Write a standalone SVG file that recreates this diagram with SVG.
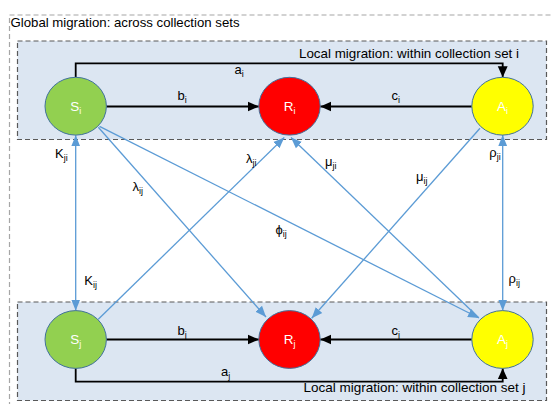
<svg xmlns="http://www.w3.org/2000/svg" width="551" height="404" viewBox="0 0 551 404">
<style>
text{font-family:"Liberation Sans",Arial,sans-serif;fill:#000}
.t{font-size:13px}
.sub{font-size:9px}
.nl{font-size:13.5px;fill:#fff}
.box{fill:#DCE6F2;stroke:#595959;stroke-width:1.2;stroke-dasharray:5 3}
.outer{fill:#fff;stroke:#A6A6A6;stroke-width:1.2;stroke-dasharray:5 3}
.blk{fill:none;stroke:#000;stroke-width:1.8;marker-end:url(#ab)}
.blu{fill:none;stroke:#5B9BD5;stroke-width:1.3;marker-end:url(#au)}
.nd{stroke:#41719C;stroke-width:1}
</style>
<defs>
<marker id="ab" markerUnits="userSpaceOnUse" markerWidth="11" markerHeight="11" viewBox="0 0 10 10" refX="10" refY="5" orient="auto"><path d="M0,0.5 L10,5 L0,9.5 z" fill="#000"/></marker>
<marker id="au" markerUnits="userSpaceOnUse" markerWidth="11" markerHeight="11" viewBox="0 0 10 10" refX="10" refY="5" orient="auto"><path d="M0,1 L10,5 L0,9 z" fill="#5B9BD5"/></marker>
<marker id="aus" markerUnits="userSpaceOnUse" markerWidth="11" markerHeight="11" viewBox="0 0 10 10" refX="0" refY="5" orient="auto"><path d="M10,1 L0,5 L10,9 z" fill="#5B9BD5"/></marker>
</defs>
<rect x="0" y="0" width="551" height="404" fill="#fff"/>
<rect class="outer" x="9.5" y="15" width="560" height="400"/>
<text class="t" x="10.5" y="26.5" textLength="229" lengthAdjust="spacingAndGlyphs">Global migration: across collection sets</text>
<rect class="box" x="17.5" y="41" width="529" height="98.5"/>
<rect class="box" x="17.5" y="302" width="529" height="98.5"/>
<text class="t" x="299" y="57.5" textLength="220" lengthAdjust="spacingAndGlyphs">Local migration: within collection set i</text>
<text class="t" x="303.5" y="391.5" textLength="222" lengthAdjust="spacingAndGlyphs">Local migration: within collection set j</text>
<g id="connectors">
<path class="blk" d="M75.7,77.3 V63.3 H502.7 V77.3"/>
<path class="blk" d="M106.3,106.5 H258.8"/>
<path class="blk" d="M471.8,106.5 H320.3"/>
<path class="blk" d="M106.3,339.5 H258.8"/>
<path class="blk" d="M471.8,339.5 H320.3"/>
<path class="blk" d="M75.7,368.3 V381.7 H502.7 V368.3"/>
<path class="blu" style="marker-start:url(#aus)" d="M75.7,135.2 V310.7"/>
<path class="blu" style="marker-start:url(#aus)" d="M502.7,135 V310.7"/>
<path class="blu" d="M98.3,127.3 L266,317"/>
<path class="blu" d="M99.5,126.3 L479,318"/>
<path class="blu" d="M98.3,319.3 L284.3,137.5"/>
<path class="blu" d="M478.5,317.5 L291,137.5"/>
<path class="blu" d="M480,128.3 L311.7,318.3"/>
</g>
<g id="edge-labels">
<text class="t" x="234.5" y="73.5">a<tspan class="sub" dy="3">i</tspan></text>
<text class="t" x="177.5" y="99.5">b<tspan class="sub" dy="3">i</tspan></text>
<text class="t" x="391.5" y="99.5">c<tspan class="sub" dy="3">i</tspan></text>
<text class="t" x="177.5" y="335">b<tspan class="sub" dy="3">j</tspan></text>
<text class="t" x="391.5" y="335">c<tspan class="sub" dy="3">j</tspan></text>
<text class="t" x="221" y="376">a<tspan class="sub" dy="3">j</tspan></text>
<text class="t" x="55" y="158">K<tspan class="sub" dy="3">ji</tspan></text>
<text class="t" x="84.3" y="285">K<tspan class="sub" dy="3">ij</tspan></text>
<text class="t" x="132.5" y="191">λ<tspan class="sub" dy="3">ij</tspan></text>
<text class="t" x="246" y="163">λ<tspan class="sub" dy="3">ji</tspan></text>
<text class="t" x="325" y="166">μ<tspan class="sub" dy="3">ji</tspan></text>
<text class="t" x="416" y="181">μ<tspan class="sub" dy="3">ij</tspan></text>
<text class="t" x="275.5" y="234">ϕ<tspan class="sub" dy="3">ij</tspan></text>
<text class="t" x="489.3" y="156.5">ρ<tspan class="sub" dy="3">ji</tspan></text>
<text class="t" x="508.5" y="283">ρ<tspan class="sub" dy="3">ij</tspan></text>
</g>
<g id="S_i"><ellipse class="nd" cx="75.7" cy="106.2" rx="30.7" ry="28.9" fill="#92D050"/><text class="nl" x="75.7" y="111" text-anchor="middle">S<tspan class="sub" dy="3" fill="#fff">i</tspan></text></g>
<g id="R_i"><ellipse class="nd" cx="289.5" cy="106.2" rx="30.7" ry="28.9" fill="#FF0000"/><text class="nl" x="289.5" y="111" text-anchor="middle">R<tspan class="sub" dy="3" fill="#fff">i</tspan></text></g>
<g id="A_i"><ellipse class="nd" cx="502.5" cy="106.2" rx="30.7" ry="28.9" fill="#FFFF00"/><text class="nl" x="502.5" y="111" text-anchor="middle">A<tspan class="sub" dy="3" fill="#fff">i</tspan></text></g>
<g id="S_j"><ellipse class="nd" cx="75.7" cy="339.5" rx="30.7" ry="28.9" fill="#92D050"/><text class="nl" x="75.7" y="344.3" text-anchor="middle">S<tspan class="sub" dy="3" fill="#fff">j</tspan></text></g>
<g id="R_j"><ellipse class="nd" cx="289.5" cy="339.5" rx="30.7" ry="28.9" fill="#FF0000"/><text class="nl" x="289.5" y="344.3" text-anchor="middle">R<tspan class="sub" dy="3" fill="#fff">j</tspan></text></g>
<g id="A_j"><ellipse class="nd" cx="502.5" cy="339.5" rx="30.7" ry="28.9" fill="#FFFF00"/><text class="nl" x="502.5" y="344.3" text-anchor="middle">A<tspan class="sub" dy="3" fill="#fff">j</tspan></text></g>
</svg>
